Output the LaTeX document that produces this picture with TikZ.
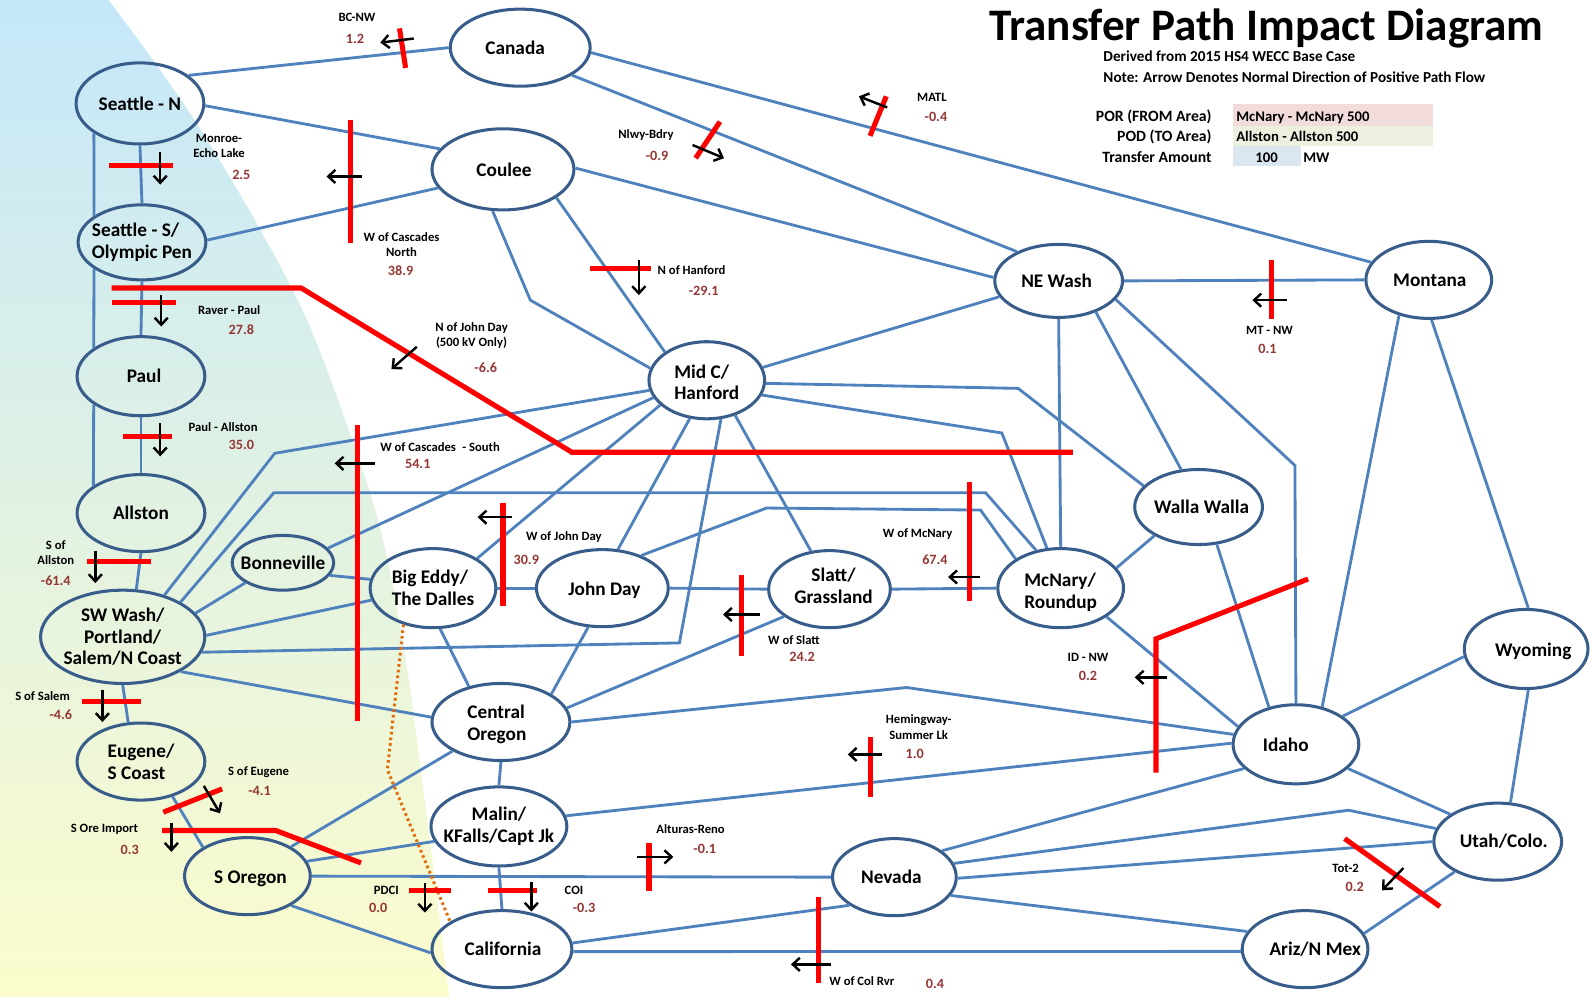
\documentclass[tikz,border=0pt]{standalone}
\usepackage{fontspec}
\setmainfont{Carlito}
\usetikzlibrary{shapes.geometric,arrows.meta}
\definecolor{edgeblue}{RGB}{79,129,189}
\definecolor{nodeblue}{RGB}{56,93,138}
\definecolor{cutred}{RGB}{255,0,0}
\definecolor{valred}{RGB}{149,55,53}
\definecolor{dotorange}{RGB}{228,108,10}
\definecolor{bgtop}{RGB}{197,231,250}
\definecolor{bgbot}{RGB}{252,252,204}
\definecolor{porfill}{RGB}{242,220,219}
\definecolor{podfill}{RGB}{235,241,222}
\definecolor{amtfill}{RGB}{220,230,241}
\begin{document}
\begin{tikzpicture}[x=1pt,y=-1pt,
  area/.style={ellipse, draw=nodeblue, line width=3pt, inner sep=0pt},
  nt/.style={font=\fontsize{19}{21.5}\selectfont\bfseries, align=center, inner sep=0pt},
  link/.style={draw=edgeblue, line width=2.8pt},
  cut/.style={draw=cutred, line width=5pt},
  flow/.style={draw=black, line width=2.4pt, -{Straight Barb[length=7pt,width=13pt]}},
  gl/.style={font=\fontsize{12.5}{15}\selectfont\bfseries, align=center, inner sep=0pt},
  gv/.style={font=\fontsize{14}{16}\selectfont\bfseries, text=valred, inner sep=0pt},
  hd/.style={font=\fontsize{15.5}{17}\selectfont\bfseries, inner sep=0pt},
  hv/.style={font=\fontsize{14.5}{17}\selectfont\bfseries, inner sep=0pt},
  dotline/.style={draw=dotorange, line width=3pt, dash pattern=on 2.6pt off 3pt}
]
\path[use as bounding box] (0,0) rectangle (1568,983);

% background
\shade[top color=bgtop, bottom color=bgbot]
  plot[smooth] coordinates {(107,0) (155,65) (200,131) (253,220) (303,316) (350,441) (377,529) (400,649) (421,806) (443,983)}
  -- (0,983) -- (0,0) -- cycle;

% areas
\node[area, minimum width=138pt, minimum height=76pt, label={[nt,xshift=-5pt]center:{Canada}}] (can) at (513,47) {};
\node[area, minimum width=126pt, minimum height=80pt, label={[nt]center:{Seattle - N}}] (sn) at (138,102) {};
\node[area, minimum width=140pt, minimum height=80pt, label={[nt,xshift=1pt]center:{Coulee}}] (cou) at (496,167) {};
\node[area, minimum width=126pt, minimum height=74pt, label={[nt,align=left]center:{Seattle - S/\\Olympic Pen}}] (ss) at (140,239) {};
\node[area, minimum width=126pt, minimum height=78pt, label={[nt,xshift=3pt]center:{Paul}}] (paul) at (139,371) {};
\node[area, minimum width=126pt, minimum height=76pt, label={[nt]center:{Allston}}] (all) at (139,506) {};
\node[area, minimum width=162pt, minimum height=92pt, label={[nt]center:{SW Wash/\\Portland/\\Salem/N Coast}}] (sww) at (121,628) {};
\node[area, minimum width=100pt, minimum height=54pt, label={[nt]center:{Bonneville}}] (bon) at (279,555) {};
\node[area, minimum width=124pt, minimum height=78pt, label={[nt,align=left]center:{Big Eddy/\\The Dalles}}] (bed) at (427,580) {};
\node[area, minimum width=130pt, minimum height=76pt, label={[nt,xshift=2pt,yshift=-2pt]center:{John Day}}] (jd) at (594,580) {};
\node[area, minimum width=114pt, minimum height=76pt, label={[nt,align=left,yshift=-2pt]center:{Mid C/\\Hanford}}] (midc) at (697,375) {};
\node[area, minimum width=120pt, minimum height=76pt, label={[nt,xshift=4pt,yshift=3pt]center:{Slatt/\\Grassland}}] (sla) at (818,581) {};
\node[area, minimum width=124pt, minimum height=78pt, label={[nt,align=left,yshift=-4pt]center:{McNary/\\Roundup}}] (mcn) at (1046,580) {};
\node[area, minimum width=126pt, minimum height=72pt, label={[nt,xshift=-2pt]center:{NE Wash}}] (new) at (1044,277) {};
\node[area, minimum width=124pt, minimum height=76pt, label={[nt,xshift=1pt]center:{Montana}}] (mon) at (1409,276) {};
\node[area, minimum width=126pt, minimum height=74pt, label={[nt,xshift=3pt]center:{Walla Walla}}] (ww) at (1182,500) {};
\node[area, minimum width=122pt, minimum height=78pt, label={[nt,xshift=7pt,yshift=-2pt]center:{Wyoming}}] (wyo) at (1505,640) {};
\node[area, minimum width=124pt, minimum height=78pt, label={[nt,xshift=-10pt]center:{Idaho}}] (ida) at (1278,734) {};
\node[area, minimum width=126pt, minimum height=76pt, label={[nt,xshift=6pt]center:{Utah/Colo.}}] (utah) at (1477,830) {};
\node[area, minimum width=124pt, minimum height=76pt, label={[nt,xshift=10pt]center:{Ariz/N Mex}}] (ariz) at (1287,936) {};
\node[area, minimum width=122pt, minimum height=76pt, label={[nt,xshift=-3pt]center:{Nevada}}] (nev) at (882,865) {};
\node[area, minimum width=138pt, minimum height=76pt, label={[nt,xshift=1pt]center:{California}}] (cal) at (495,936) {};
\node[area, minimum width=134pt, minimum height=78pt, label={[nt]center:{Malin/\\KFalls/Capt Jk}}] (mal) at (492,815) {};
\node[area, minimum width=136pt, minimum height=76pt, label={[nt,align=left,xshift=-4pt,yshift=-2pt]center:{Central\\Oregon}}] (cor) at (494,712) {};
\node[area, minimum width=124pt, minimum height=76pt, label={[nt,xshift=3pt,yshift=-3pt]center:{S Oregon}}] (sor) at (244,864) {};
\node[area, minimum width=126pt, minimum height=76pt, label={[nt,align=left]center:{Eugene/\\S Coast}}] (eug) at (139,751) {};

% links
\draw[link] (sn.30) -- (can.180);
\draw[link] (sn.-2) -- (cou.162);
\draw[link] (sn.south) -- (ss.north);
\draw[link] (sn.213) -- (ss.151);
\draw[link] (ss.209) -- (paul.149);
\draw[link] (ss.south) -- (paul.north);
\draw[link] (paul.211) -- (all.150);
\draw[link] (paul.south) -- (all.north);
\draw[link] (all.south) -- (sww.74);
\draw[link] (sww.south) -- (eug.108);
\draw[link] (eug.-48) -- (sor.147);
\draw[link] (ss.2) -- (cou.196);
\draw[link] (sww.45) -- (271,447) -- (midc.190);
\draw[link] (sww.31) -- (270,486) -- (972,486) -- (mcn.123);
\draw[link] (sww.18) -- (bon.208);
\draw[link] (sww.1) -- (bed.191);
\draw[link] (sww.-11) -- (670,634) -- (midc.-70);
\draw[link] (sww.-31) -- (cor.176);
\draw[link] (bon.-15) -- (bed.172);
\draw[link] (bon.18) -- (midc.198);
\draw[link] (bed.34) -- (midc.208);
\draw[link] (bed.east) -- (jd.west);
\draw[link] (bed.-80) -- (cor.132);
\draw[link] (jd.68) -- (midc.246);
\draw[link] (jd.east) -- (sla.west);
\draw[link] (jd.250) -- (cor.29);
\draw[link] (jd.40) -- (756,501) -- (967,503) -- (mcn.147);
\draw[link] (midc.146) -- (cou.-28);
\draw[link] (midc.168) -- (523,296) -- (cou.256);
\draw[link] (midc.13) -- (new.195);
\draw[link] (midc.-3) -- (1004,383) -- (ww.159);
\draw[link] (midc.-15) -- (988,427) -- (mcn.109);
\draw[link] (midc.-51) -- (sla.116);
\draw[link] (cou.1) -- (new.177);
\draw[link] (can.-28) -- (new.145);
\draw[link] (can.-4) -- (mon.163);
\draw[link] (new.east) -- (mon.west);
\draw[link] (new.south) -- (mcn.north);
\draw[link] (new.-40) -- (ww.115);
\draw[link] (new.-18) -- (1277,459) -- (ida.north);
\draw[link] (mon.230) -- (ida.55);
\draw[link] (mon.-86) -- (wyo.87);
\draw[link] (ww.213) -- (mcn.20);
\draw[link] (ww.-64) -- (ida.126);
\draw[link] (mcn.west) -- (sla.east);
\draw[link] (mcn.-32) -- (ida.163);
\draw[link] (sla.211) -- (cor.12);
\draw[link] (cor.east) -- (894,678) -- (ida.171);
\draw[link] (cor.south) -- (mal.north);
\draw[link] (cor.211) -- (sor.34);
\draw[link] (mal.9) -- (ida.179);
\draw[link] (mal.193) -- (sor.14);
\draw[link] (mal.south) -- (cal.north);
\draw[link] (sor.east) -- (nev.west);
\draw[link] (sor.-34) -- (cal.183);
\draw[link] (cal.5) -- (nev.212);
\draw[link] (cal.-2) -- (ariz.182);
\draw[link] (nev.29) -- (ida.205);
\draw[link] (nev.13) -- (1330,799) -- (utah.168);
\draw[link] (nev.-1) -- (utah.180);
\draw[link] (nev.-18) -- (ariz.163);
\draw[link] (ida.31) -- (wyo.187);
\draw[link] (ida.-25) -- (utah.150);
\draw[link] (utah.72) -- (wyo.-87);
\draw[link] (utah.215) -- (ariz.15);
\draw[dotline] (bed.231) -- (382,759) -- (cal.152);

% cut planes
\draw[cut] (394,28) -- (400,67);
\draw[cut] (107,163) -- (171,163);
\draw[cut] (346,118) -- (346,240);
\draw[cut] (110,284) -- (297,284) -- (564,446) -- (1058,446);
\draw[cut] (110,298) -- (174,298);
\draw[cut] (582,265) -- (642,265);
\draw[cut] (710,120) -- (686,156);
\draw[cut] (874,95) -- (858,134);
\draw[cut] (1254,256) -- (1254,315);
\draw[cut] (121,430) -- (170,430);
\draw[cut] (353,419) -- (353,711);
\draw[cut] (496,496) -- (496,598);
\draw[cut] (731,567) -- (731,647);
\draw[cut] (956,475) -- (956,593);
\draw[cut] (1140,762) -- (1140,630) -- (1290,571);
\draw[cut] (858,727) -- (858,786);
\draw[cut] (86,554) -- (149,554);
\draw[cut] (81,692) -- (139,692);
\draw[cut] (161,801) -- (219,778);
\draw[cut] (160,819) -- (272,819) -- (356,851);
\draw[cut] (403,878) -- (445,878);
\draw[cut] (481,878) -- (530,878);
\draw[cut] (640,831) -- (640,879);
\draw[cut] (807,885) -- (807,969);
\draw[cut] (1326,827) -- (1420,894);

% flow arrows
\draw[flow] (408,38) -- (375,42);
\draw[flow] (158,150) -- (158,182);
\draw[flow] (357,174) -- (322,174);
\draw[flow] (159,291) -- (159,322);
\draw[flow] (411,342) -- (386,364);
\draw[flow] (630,256) -- (630,291);
\draw[flow] (683,143) -- (714,156);
\draw[flow] (875,106) -- (847,95);
\draw[flow] (1269,296) -- (1235,296);
\draw[flow] (158,417) -- (158,450);
\draw[flow] (370,457) -- (330,457);
\draw[flow] (505,510) -- (471,510);
\draw[flow] (749,606) -- (713,606);
\draw[flow] (966,569) -- (935,569);
\draw[flow] (1151,668) -- (1119,668);
\draw[flow] (870,744) -- (836,744);
\draw[flow] (94,543) -- (94,575);
\draw[flow] (101,680) -- (101,712);
\draw[flow] (201,775) -- (217,802);
\draw[flow] (169,812) -- (169,840);
\draw[flow] (419,871) -- (419,900);
\draw[flow] (524,870) -- (524,899);
\draw[flow] (628,845) -- (664,845);
\draw[flow] (819,951) -- (780,951);
\draw[flow] (1384,856) -- (1363,878);

% path labels
\node[gl] (l1) at (352,17) {BC-NW};
\node[gv] (v1) at (350,38) {1.2};
\node[gl] (l2) at (216,144) {Monroe-\\Echo Lake};
\node[gv] (v2) at (238,172) {2.5};
\node[gl] (l3) at (396,241) {W of Cascades\\North};
\node[gv] (v3) at (395,267) {38.9};
\node[gl] (l4) at (226,306) {Raver - Paul};
\node[gv] (v4) at (238,325) {27.8};
\node[gl] (l5) at (465,331) {N of John Day\\(500 kV Only)};
\node[gv] (v5) at (479,363) {-6.6};
\node[gl] (l6) at (682,266) {N of Hanford};
\node[gv] (v6) at (694,287) {-29.1};
\node[gl] (l7) at (637,133) {Nlwy-Bdry};
\node[gv] (v7) at (648,154) {-0.9};
\node[gl] (l8) at (919,96) {MATL};
\node[gv] (v8) at (923,115) {-0.4};
\node[gl] (l9) at (1252,326) {MT - NW};
\node[gv] (v9) at (1250,344) {0.1};
\node[gl] (l10) at (220,421) {Paul - Allston};
\node[gv] (v10) at (238,439) {35.0};
\node[gl] (l11) at (434,441) {W of Cascades\enspace- South};
\node[gv] (v11) at (412,458) {54.1};
\node[gl] (l12) at (556,530) {W of John Day};
\node[gv] (v12) at (519,552) {30.9};
\node[gl] (l13) at (783,631) {W of Slatt};
\node[gv] (v13) at (791,648) {24.2};
\node[gl] (l14) at (905,527) {W of McNary};
\node[gv] (v14) at (922,552) {67.4};
\node[gl] (l15) at (1073,648) {ID - NW};
\node[gv] (v15) at (1073,667) {0.2};
\node[gl] (l16) at (906,717) {Hemingway-\\Summer Lk};
\node[gv] (v16) at (902,743) {1.0};
\node[gl] (l17) at (55,545) {S of\\Allston};
\node[gv] (v17) at (55,573) {-61.4};
\node[gl] (l18) at (42,686) {S of Salem};
\node[gv] (v18) at (60,705) {-4.6};
\node[gl] (l19) at (255,761) {S of Eugene};
\node[gv] (v19) at (256,780) {-4.1};
\node[gl] (l20) at (103,818) {S Ore Import};
\node[gv] (v20) at (128,838) {0.3};
\node[gl] (l21) at (381,878) {PDCI};
\node[gv] (v21) at (373,895) {0.0};
\node[gl] (l22) at (566,878) {COI};
\node[gv] (v22) at (576,895) {-0.3};
\node[gl] (l23) at (681,818) {Alturas-Reno};
\node[gv] (v23) at (695,837) {-0.1};
\node[gl] (l24) at (850,968) {W of Col Rvr};
\node[gv] (v24) at (922,970) {0.4};
\node[gl] (l25) at (1327,856) {Tot-2};
\node[gv] (v25) at (1336,875) {0.2};

% header
\node[font=\fontsize{44.5}{48}\selectfont\bfseries, anchor=base, inner sep=0pt] (title) at (1249,40) {Transfer Path Impact Diagram};
\node[font=\fontsize{15}{17}\selectfont\bfseries, anchor=base west, inner sep=0pt] (sub1) at (1088,61) {Derived from 2015 HS4 WECC Base Case};
\node[font=\fontsize{15}{17}\selectfont\bfseries, anchor=base west, inner sep=0pt] (sub2) at (1088,81) {Note: Arrow Denotes Normal Direction of Positive Path Flow};
\fill[porfill] (1216,103) rectangle (1413,124);
\fill[podfill] (1216,124) rectangle (1413,144);
\fill[amtfill] (1216,144) rectangle (1283,164);
\node[hd, anchor=base east] (por) at (1195,120) {POR (FROM Area)};
\node[hd, anchor=base east] (pod) at (1195,140) {POD (TO Area)};
\node[hd, anchor=base east] (amt) at (1195,160) {Transfer Amount};
\node[hv, anchor=base west] (porv) at (1219,120) {McNary - McNary 500};
\node[hv, anchor=base west] (podv) at (1219,140) {Allston - Allston 500};
\node[hv, anchor=base] (amtv) at (1249,160) {100};
\node[hv, anchor=base west] (mw) at (1285,160) {MW};
\end{tikzpicture}
\end{document}
